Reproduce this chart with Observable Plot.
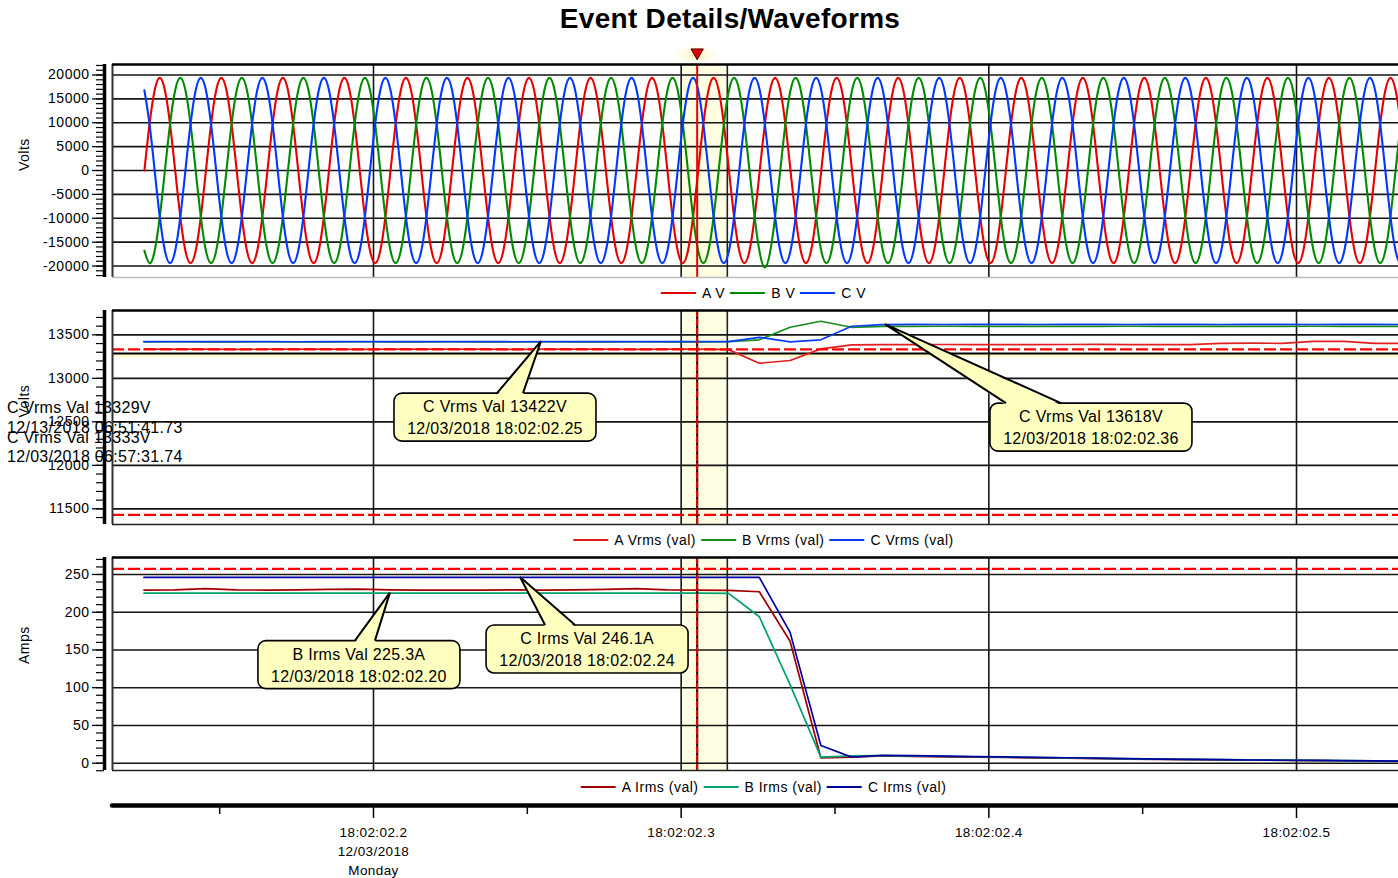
<!DOCTYPE html>
<html>
<head>
<meta charset="utf-8">
<script src="https://cdn.jsdelivr.net/npm/d3@7"></script>
<script src="https://cdn.jsdelivr.net/npm/@observablehq/plot@0.6"></script>
<style>
html, body { margin: 0; padding: 0; background: #fff; overflow: hidden; }
#root { position: relative; width: 1398px; height: 878px; overflow: hidden; font-family: "Liberation Sans", Arial, Helvetica, sans-serif; color: #000; }
#root svg { position: absolute; left: 0; display: block; max-width: none; }
.note { position: absolute; left: 7px; font-size: 16px; letter-spacing: 0.3px; line-height: 18px; white-space: nowrap; z-index: 5; }
.legend { position: absolute; transform: translateX(-50%); white-space: nowrap; display: flex; align-items: center; height: 18px; font-size: 14px; letter-spacing: 0.5px; z-index: 5; }
.legend .sw { display: block; flex: none; width: 35px; height: 2px; margin: 0 6px 0 5px; }
.title { position: absolute; top: 3px; left: 730px; transform: translateX(-50%); font-size: 28px; font-weight: bold; letter-spacing: 0.3px; white-space: nowrap; }
</style>
</head>
<body>
<div id="root"></div>
<script>
// ---------------- DATA ----------------
// time = seconds after 18:02:02 on 12/03/2018
const xTickTimes = [0.2, 0.3, 0.4, 0.5];
const xTickLabels = ["18:02:02.2\n12/03/2018\nMonday", "18:02:02.3", "18:02:02.4", "18:02:02.5"];
const xMinorTimes = [0.15, 0.25, 0.35, 0.45];

// instantaneous voltage samples (hundreds of volts), 30° steps of a 50 Hz cycle
const waveStart = 0.12554;
const waveStep = 1 / 600;
const waveA = [
0,97,168,194,168,97,0,-97,-168,-194,-168,-97,
0,97,168,194,168,97,0,-97,-168,-194,-168,-97,
0,97,168,194,168,97,0,-97,-168,-194,-168,-97,
0,97,168,194,168,97,0,-97,-168,-194,-168,-97,
0,97,168,194,168,97,0,-97,-168,-194,-168,-97,
0,97,168,194,168,97,0,-97,-168,-194,-168,-97,
0,97,168,194,168,97,0,-97,-168,-194,-168,-97,
0,97,168,194,168,97,0,-97,-168,-194,-168,-97,
0,97,168,194,168,97,0,-97,-168,-194,-168,-97,
0,97,168,194,168,97,0,-97,-168,-194,-168,-97,
0,97,168,194,168,97,0,-97,-168,-194,-168,-97,
0,97,168,194,168,97,0,-97,-168,-194,-168,-97,
0,97,168,194,168,97,0,-97,-168,-194,-168,-97,
0,97,168,194,168,97,0,-97,-168,-194,-168,-97,
0,97,168,194,168,97,0,-97,-168,-194,-168,-97,
0,97,168,194,168,97,0,-97,-168,-194,-168,-97,
0,97,168,194,168,97,0,-97,-168,-194,-168,-97,
0,97,168,194,168,97,0,-97,-168,-194,-168,-97,
0,97,168,194,168,97,0,-97,-168,-194,-168,-97,
0,97,168,194,168,97,0,-97,-168,-194,-168,-97,
0,97,168,194,168,97,0,-97,-168,-194,-168,-97,
0];
const waveB = [
-168,-194,-168,-97,0,97,168,194,168,97,0,-97,
-168,-194,-168,-97,0,97,168,194,168,97,0,-97,
-168,-194,-168,-97,0,97,168,194,168,97,0,-97,
-168,-194,-168,-97,0,97,168,194,168,97,0,-97,
-168,-194,-168,-97,0,97,168,194,168,97,0,-97,
-168,-194,-168,-97,0,97,168,194,168,97,0,-97,
-168,-194,-168,-97,0,97,168,194,168,97,0,-97,
-168,-194,-168,-97,0,97,168,194,168,97,0,-97,
-168,-194,-168,-97,0,97,168,194,168,97,0,-97,
-168,-194,-168,-97,0,97,168,194,168,97,0,-97,
-172,-203,-172,-97,0,97,168,194,168,97,0,-97,
-168,-194,-168,-97,0,97,168,194,168,97,0,-97,
-168,-194,-168,-97,0,97,168,194,168,97,0,-97,
-168,-194,-168,-97,0,97,168,194,168,97,0,-97,
-168,-194,-168,-97,0,97,168,194,168,97,0,-97,
-168,-194,-168,-97,0,97,168,194,168,97,0,-97,
-168,-194,-168,-97,0,97,168,194,168,97,0,-97,
-168,-194,-168,-97,0,97,168,194,168,97,0,-97,
-168,-194,-168,-97,0,97,168,194,168,97,0,-97,
-168,-194,-168,-97,0,97,168,194,168,97,0,-97,
-168,-194,-168,-97,0,97,168,194,168,97,0,-97,
-168];
const waveC = [
168,97,0,-97,-168,-194,-168,-97,0,97,168,194,
168,97,0,-97,-168,-194,-168,-97,0,97,168,194,
168,97,0,-97,-168,-194,-168,-97,0,97,168,194,
168,97,0,-97,-168,-194,-168,-97,0,97,168,194,
168,97,0,-97,-168,-194,-168,-97,0,97,168,194,
168,97,0,-97,-168,-194,-168,-97,0,97,168,194,
168,97,0,-97,-168,-194,-168,-97,0,97,168,194,
168,97,0,-97,-168,-194,-168,-97,0,97,168,194,
168,97,0,-97,-168,-194,-168,-97,0,97,168,194,
168,97,0,-97,-168,-194,-168,-97,0,97,168,194,
168,97,0,-97,-168,-194,-168,-97,0,97,168,194,
168,97,0,-97,-168,-194,-168,-97,0,97,168,194,
168,97,0,-97,-168,-194,-168,-97,0,97,168,194,
168,97,0,-97,-168,-194,-168,-97,0,97,168,194,
168,97,0,-97,-168,-194,-168,-97,0,97,168,194,
168,97,0,-97,-168,-194,-168,-97,0,97,168,194,
168,97,0,-97,-168,-194,-168,-97,0,97,168,194,
168,97,0,-97,-168,-194,-168,-97,0,97,168,194,
168,97,0,-97,-168,-194,-168,-97,0,97,168,194,
168,97,0,-97,-168,-194,-168,-97,0,97,168,194,
168,97,0,-97,-168,-194,-168,-97,0,97,168,194,
168];

// half-cycle RMS values, one every 10 ms
const rmsStart = 0.1254;
const rmsStep = 0.01;
const vrmsA = [13336,13335,13337,13334,13335,13336,13335,13334,13336,13335,13337,13335,13334,13335,13336,13335,13334,13335,13336,
  13330,13174,13205,13339,13385,
  13388,13388,13389,13388,13387,13388,13389,13390,13388,13387,13388,
  13403,13404,13403,13426,13426,13403,13402];
const vrmsB = [13420,13421,13420,13420,13421,13420,13420,13421,13420,13420,13421,13420,13420,13421,13420,13420,13421,13420,13420,
  13423,13443,13587,13656,13587,
  13598,13598,13599,13598,13598,13597,13598,13598,13599,13598,13598,13597,13598,13598,13599,13598,13598,13598];
const vrmsC = [13422,13422,13423,13422,13422,13421,13422,13422,13423,13422,13422,13422,13421,13422,13422,13423,13422,13422,13422,
  13423,13472,13420,13443,13599,
  13618,13620,13619,13620,13620,13619,13620,13620,13619,13620,13620,13619,13620,13620,13619,13620,13620,13619];
const irmsA = [229.4,229.6,231.3,229.5,229.4,229.6,230.4,230.6,229.5,229.3,229.2,229.4,229.5,229.4,229.6,230.2,231.3,229.6,229.3,229.0,
  227.1,161.5,7.1,8.0,9.5,9.0,8.4,8.0,7.5,7.0,6.5,5.9,5.4,5.0,4.6,4.3,4.0,3.8,3.5,3.2,3.0,2.8];
const irmsB = [225.3,225.3,225.3,225.3,225.3,225.3,225.3,225.3,225.3,225.3,225.3,225.3,225.3,225.3,225.3,225.3,225.3,225.3,225.3,
  225.0,194.0,104.0,8.0,9.6,10.0,9.5,9.0,8.5,8.0,7.5,7.0,6.4,5.8,5.3,5.0,4.6,4.3,4.0,3.7,3.4,3.1,2.9];
const irmsC = [246.1,246.1,246.1,246.1,246.1,246.1,246.1,246.1,246.1,246.1,246.1,246.1,246.1,246.1,246.1,246.1,246.1,246.1,246.1,246.1,246.1,
  173.3,23.4,8.0,10.5,10.0,9.4,8.8,8.3,7.8,7.2,6.6,6.0,5.5,5.0,4.6,4.2,3.9,3.6,3.3,3.0,2.7];

const voltTicks = [-20000, -15000, -10000, -5000, 0, 5000, 10000, 15000, 20000];
const vrmsTicks = [11500, 12000, 12500, 13000, 13500];
const ampTicks = [0, 50, 100, 150, 200, 250];
const vrmsLimitLines = [13333, 11431];
const vrmsSelectLine = [13285];
const vrmsSelectBand = [[13240, 13276]];
const irmsLimitLines = [257.5];
const eventTime = 0.3052;
const eventBand = [[0.3002, 0.3150]];

const vrmsNotes = [
  {t: 0.2546, v: 13422, lines: ["C Vrms Val 13422V", "12/03/2018 18:02:02.25"]},
  {t: 0.3664, v: 13618, lines: ["C Vrms Val 13618V", "12/03/2018 18:02:02.36"]}
];
const irmsNotes = [
  {t: 0.2055, v: 225.3, lines: ["B Irms Val 225.3A", "12/03/2018 18:02:02.20"]},
  {t: 0.2478, v: 246.1, lines: ["C Irms Val 246.1A", "12/03/2018 18:02:02.24"]}
];
const limitNotes = ["C Vrms Val 13329V", "12/13/2018 06:51:41.73", "C Vrms Val 13333V", "12/03/2018 06:57:31.74"];

const waveSeries = ["A V", "B V", "C V"];
const vrmsSeries = ["A Vrms (val)", "B Vrms (val)", "C Vrms (val)"];
const irmsSeries = ["A Irms (val)", "B Irms (val)", "C Irms (val)"];

// ---------------- STYLE / LAYOUT ----------------
const FONT = '"Liberation Sans", Arial, Helvetica, sans-serif';
const W = 1398;
const xDomain = [0.11517, 0.53315];
const waveColors = ["#e60000", "#008a00", "#0038ff"];
const vrmsColors = ["#e02020", "#1a8c1a", "#0a3cf0"];
const irmsColors = ["#a00000", "#00a070", "#0000a0"];
const GRID = "#151515";
const NOTE_FILL = "#ffffc0";

const root = document.getElementById("root");

function rowsFrom(arr, start, step, scale) {
  return arr.map((v, i) => ({t: start + i * step, v: v * scale}));
}

function yAxisMarks(majors, minors, label) {
  return [
    Plot.ruleX([xDomain[0]], {dx: -8, stroke: "#000", strokeWidth: 3.5}),
    Plot.axisY({ticks: minors, anchor: "left", tickSize: 8, dx: -8, tickFormat: () => "", label: null, strokeWidth: 1.2}),
    Plot.axisY({ticks: majors, anchor: "left", tickSize: 12, tickPadding: 3, dx: -8, tickFormat: d => String(d), label: null, fontSize: 14, strokeWidth: 1.3}),
    Plot.text([label], {text: d => d, frameAnchor: "left", dx: -88, rotate: -90, fontSize: 14})
  ];
}
function gridMarks(yTicks) {
  return [
    Plot.ruleY(yTicks, {stroke: GRID, strokeWidth: 1.6}),
    Plot.ruleX(xTickTimes, {stroke: GRID, strokeWidth: 1.6})
  ];
}
function frameMarks(yDomain, bottomColor) {
  return [
    Plot.ruleX([xDomain[0]], {stroke: "#333", strokeWidth: 2}),
    Plot.ruleY([yDomain[1]], {stroke: "#000", strokeWidth: 2.5}),
    Plot.ruleY([yDomain[0]], {stroke: bottomColor, strokeWidth: 1.5})
  ];
}
function eventMarks() {
  return [
    Plot.rect(eventBand, {x1: d => d[0], x2: d => d[1], fill: "#fffde2"}),
    Plot.ruleX(eventBand, {x: d => d[1], stroke: "#222", strokeWidth: 1.6})
  ];
}
function eventLine(dashed) {
  if (!dashed) return [Plot.ruleX([eventTime], {stroke: "#e80000", strokeWidth: 2})];
  return [
    Plot.ruleX([eventTime], {stroke: "#000", strokeWidth: 2}),
    Plot.ruleX([eventTime], {stroke: "#e80000", strokeWidth: 2, strokeDasharray: "7,2"})
  ];
}
function calloutMark(notes, layout) {
  return (index, scales, values, dims) => {
    const g = d3.create("svg:g");
    notes.forEach((a, i) => {
      const L = layout[i];
      const px = scales.x(a.t), py = scales.y(a.v);
      const w = 202, h = 48;
      const cx = px + L.box[0], cy = py + L.box[1];
      const top = cy - h / 2;
      const b0 = cx + L.base[0], b1 = cx + L.base[1];
      g.append("rect").attr("x", cx - w / 2).attr("y", top).attr("width", w).attr("height", h)
        .attr("rx", 8).attr("fill", NOTE_FILL).attr("stroke", "#000").attr("stroke-width", 1.6);
      g.append("path").attr("d", `M${b0},${top + 2}L${px},${py}L${b1},${top + 2}Z`).attr("fill", NOTE_FILL);
      g.append("path").attr("d", `M${b0},${top}L${px},${py}L${b1},${top}`).attr("fill", "none")
        .attr("stroke", "#000").attr("stroke-width", 2).attr("stroke-linejoin", "miter");
      a.lines.forEach((s, j) => {
        g.append("text").attr("x", cx).attr("y", cy + (j === 0 ? -10.5 : 11.5)).attr("dy", "0.35em")
          .attr("text-anchor", "middle").attr("font-size", 16).attr("letter-spacing", "0.3px")
          .attr("font-family", FONT).attr("fill", "#000").text(s);
      });
    });
    return g.node();
  };
}
function glowMark(index, scales, values, dims) {
  const g = d3.create("svg:g");
  const x = scales.x(eventTime);
  const rg = g.append("defs").append("radialGradient").attr("id", "evglow");
  rg.append("stop").attr("offset", "0%").attr("stop-color", "#fff3b0").attr("stop-opacity", 0.95);
  rg.append("stop").attr("offset", "100%").attr("stop-color", "#fffbe0").attr("stop-opacity", 0);
  g.append("ellipse").attr("cx", x).attr("cy", dims.marginTop - 9).attr("rx", 26).attr("ry", 11).attr("fill", "url(#evglow)");
  return g.node();
}

function place(svg, top) {
  svg.style.top = top + "px";
  root.appendChild(svg);
}
const baseStyle = {fontFamily: FONT, fontSize: "13px", color: "#000", background: "transparent", letterSpacing: "0.5px", overflow: "visible"};

// ---------- Panel 1: waveforms ----------
{
  const yDomain = [-22400, 22200];
  const wave = [waveA, waveB, waveC].map(a => rowsFrom(a, waveStart, waveStep, 100));
  const svg = Plot.plot({
    width: W, height: 240, marginTop: 20, marginBottom: 7, marginLeft: 112, marginRight: 0,
    x: {domain: xDomain, axis: null},
    y: {domain: yDomain},
    style: baseStyle,
    marks: [
      glowMark,
      ...eventMarks(),
      ...gridMarks(voltTicks),
      ...wave.map((rows, i) => Plot.line(rows, {x: "t", y: "v", stroke: waveColors[i], strokeWidth: 2.1, curve: "natural", clip: true})),
      ...eventLine(false),
      ...frameMarks(yDomain, "#bbb"),
      ...yAxisMarks(voltTicks, d3.range(-22000, 22001, 1000), "Volts"),
      Plot.dot([eventTime], {x: d => d, frameAnchor: "top", dy: -12, symbol: "triangle", rotate: 180, r: 4.6, fill: "#e00000", stroke: "#400", strokeWidth: 1})
    ]
  });
  place(svg, 44);
}

// ---------- Panel 2: Vrms ----------
{
  const yDomain = [11320, 13780];
  const rows = [vrmsA, vrmsB, vrmsC].map(a => rowsFrom(a, rmsStart, rmsStep, 1));
  const svg = Plot.plot({
    width: W, height: 230, marginTop: 10, marginBottom: 6, marginLeft: 112, marginRight: 0,
    x: {domain: xDomain, axis: null},
    y: {domain: yDomain},
    style: baseStyle,
    marks: [
      ...eventMarks(),
      Plot.rect(vrmsSelectBand, {y1: d => d[0], y2: d => d[1], fill: "#fffcc4"}),
      ...gridMarks(vrmsTicks),
      Plot.ruleY(vrmsSelectLine, {stroke: "#000", strokeWidth: 2}),
      ...rows.map((r, i) => Plot.line(r, {x: "t", y: "v", stroke: vrmsColors[i], strokeWidth: 1.7, clip: true})),
      Plot.ruleY(vrmsLimitLines, {stroke: "#f00", strokeWidth: 2.2, strokeDasharray: "12,4"}),
      ...eventLine(true),
      calloutMark(vrmsNotes, [{box: [-46, 76], base: [2, 28]}, {box: [206, 103], base: [-85, -30]}]),
      ...frameMarks(yDomain, "#222"),
      ...yAxisMarks(vrmsTicks, d3.range(11400, 13701, 100), "Volts")
    ]
  });
  place(svg, 300);
}

// ---------- Panel 3: Irms ----------
{
  const yDomain = [-9.7, 272.5];
  const rows = [irmsA, irmsB, irmsC].map(a => rowsFrom(a, rmsStart, rmsStep, 1));
  const svg = Plot.plot({
    width: W, height: 228, marginTop: 10, marginBottom: 5, marginLeft: 112, marginRight: 0,
    x: {domain: xDomain, axis: null},
    y: {domain: yDomain},
    style: baseStyle,
    marks: [
      ...eventMarks(),
      ...gridMarks(ampTicks),
      ...rows.map((r, i) => Plot.line(r, {x: "t", y: "v", stroke: irmsColors[i], strokeWidth: 1.7, clip: true})),
      Plot.ruleY(irmsLimitLines, {stroke: "#f00", strokeWidth: 2.2, strokeDasharray: "12,4"}),
      ...eventLine(true),
      calloutMark(irmsNotes, [{box: [-31, 72], base: [-4, 16]}, {box: [67, 72], base: [-42, -12]}]),
      ...frameMarks(yDomain, "#222"),
      ...yAxisMarks(ampTicks, d3.range(-10, 271, 10), "Amps")
    ]
  });
  place(svg, 547);
}

// ---------- Bottom time axis ----------
{
  const svg = Plot.plot({
    width: W, height: 83, marginTop: 0, marginBottom: 73, marginLeft: 112, marginRight: 0,
    x: {domain: xDomain},
    y: {domain: [0, 1], axis: null},
    style: {fontFamily: FONT, fontSize: "13px", color: "#000", background: "transparent", letterSpacing: "0.4px", overflow: "visible"},
    marks: [
      Plot.ruleY([0], {stroke: "#000", strokeWidth: 4.5, strokeLinecap: "round"}),
      Plot.axisX({ticks: xMinorTimes, anchor: "bottom", tickSize: 9, tickFormat: () => "", label: null, strokeWidth: 1.5}),
      Plot.axisX({ticks: xTickTimes, anchor: "bottom", tickSize: 13, tickFormat: () => "", label: null, strokeWidth: 1.5}),
      Plot.text(xTickTimes, {x: d => d, text: (d, i) => xTickLabels[i], frameAnchor: "bottom", dy: 18, lineAnchor: "top", lineHeight: 1.42, fontSize: 13.5})
    ]
  });
  place(svg, 795);
}

// ---------- HTML text: title, legends, limit notes ----------
{
  const t = document.createElement("div");
  t.className = "title";
  t.textContent = "Event Details/Waveforms";
  root.appendChild(t);

  function legend(names, colors, cy) {
    const d = document.createElement("div");
    d.className = "legend";
    d.style.left = "761px";
    d.style.top = (cy - 9) + "px";
    names.forEach((n, i) => {
      const sw = document.createElement("span");
      sw.className = "sw";
      sw.style.background = colors[i];
      const tx = document.createElement("span");
      tx.textContent = n;
      d.appendChild(sw); d.appendChild(tx);
    });
    root.appendChild(d);
  }
  legend(waveSeries, waveColors, 293);
  legend(vrmsSeries, vrmsColors, 540);
  legend(irmsSeries, irmsColors, 787);

  const noteCenters = [408, 428, 438, 457];
  limitNotes.forEach((s, i) => {
    const d = document.createElement("div");
    d.className = "note";
    d.style.top = (noteCenters[i] - 9) + "px";
    d.textContent = s;
    root.appendChild(d);
  });
}
</script>
</body>
</html>
